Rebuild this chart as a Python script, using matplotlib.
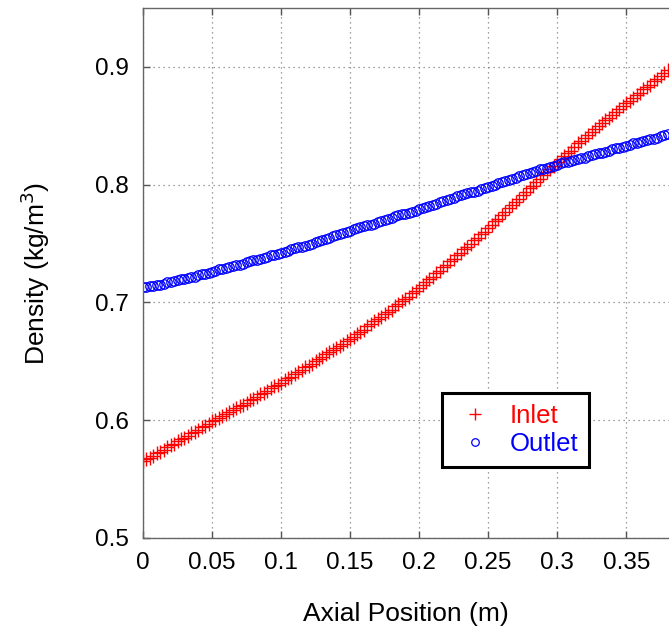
import matplotlib
matplotlib.use("Agg")
import matplotlib.pyplot as plt

plt.rcParams['font.family'] = ['Liberation Sans', 'DejaVu Sans']

axial_position = [
    0.0000, 0.0025, 0.0050, 0.0075, 0.0100, 0.0125, 0.0150, 0.0175, 0.0200, 0.0225,
    0.0250, 0.0275, 0.0300, 0.0325, 0.0350, 0.0375, 0.0400, 0.0425, 0.0450, 0.0475,
    0.0500, 0.0525, 0.0550, 0.0575, 0.0600, 0.0625, 0.0650, 0.0675, 0.0700, 0.0725,
    0.0750, 0.0775, 0.0800, 0.0825, 0.0850, 0.0875, 0.0900, 0.0925, 0.0950, 0.0975,
    0.1000, 0.1025, 0.1050, 0.1075, 0.1100, 0.1125, 0.1150, 0.1175, 0.1200, 0.1225,
    0.1250, 0.1275, 0.1300, 0.1325, 0.1350, 0.1375, 0.1400, 0.1425, 0.1450, 0.1475,
    0.1500, 0.1525, 0.1550, 0.1575, 0.1600, 0.1625, 0.1650, 0.1675, 0.1700, 0.1725,
    0.1750, 0.1775, 0.1800, 0.1825, 0.1850, 0.1875, 0.1900, 0.1925, 0.1950, 0.1975,
    0.2000, 0.2025, 0.2050, 0.2075, 0.2100, 0.2125, 0.2150, 0.2175, 0.2200, 0.2225,
    0.2250, 0.2275, 0.2300, 0.2325, 0.2350, 0.2375, 0.2400, 0.2425, 0.2450, 0.2475,
    0.2500, 0.2525, 0.2550, 0.2575, 0.2600, 0.2625, 0.2650, 0.2675, 0.2700, 0.2725,
    0.2750, 0.2775, 0.2800, 0.2825, 0.2850, 0.2875, 0.2900, 0.2925, 0.2950, 0.2975,
    0.3000, 0.3025, 0.3050, 0.3075, 0.3100, 0.3125, 0.3150, 0.3175, 0.3200, 0.3225,
    0.3250, 0.3275, 0.3300, 0.3325, 0.3350, 0.3375, 0.3400, 0.3425, 0.3450, 0.3475,
    0.3500, 0.3525, 0.3550, 0.3575, 0.3600, 0.3625, 0.3650, 0.3675, 0.3700, 0.3725,
    0.3750, 0.3775, 0.3800,
]

inlet_density = [
    0.565, 0.567, 0.568, 0.570, 0.572, 0.573, 0.575, 0.577, 0.579, 0.580,
    0.582, 0.584, 0.585, 0.587, 0.589, 0.590, 0.592, 0.594, 0.595, 0.597,
    0.599, 0.600, 0.602, 0.604, 0.605, 0.607, 0.609, 0.610, 0.612, 0.613,
    0.615, 0.617, 0.618, 0.620, 0.622, 0.623, 0.625, 0.627, 0.629, 0.630,
    0.632, 0.634, 0.636, 0.637, 0.639, 0.641, 0.643, 0.645, 0.646, 0.648,
    0.650, 0.652, 0.654, 0.656, 0.658, 0.660, 0.661, 0.663, 0.665, 0.667,
    0.669, 0.671, 0.673, 0.675, 0.677, 0.680, 0.682, 0.684, 0.686, 0.688,
    0.690, 0.692, 0.694, 0.697, 0.699, 0.701, 0.703, 0.705, 0.708, 0.710,
    0.712, 0.715, 0.717, 0.720, 0.722, 0.725, 0.727, 0.730, 0.732, 0.735,
    0.737, 0.740, 0.742, 0.745, 0.747, 0.750, 0.753, 0.755, 0.758, 0.760,
    0.763, 0.766, 0.769, 0.771, 0.774, 0.777, 0.780, 0.783, 0.785, 0.788,
    0.791, 0.794, 0.797, 0.799, 0.802, 0.805, 0.808, 0.811, 0.813, 0.816,
    0.819, 0.822, 0.824, 0.827, 0.829, 0.832, 0.835, 0.837, 0.840, 0.842,
    0.845, 0.847, 0.850, 0.852, 0.855, 0.857, 0.859, 0.862, 0.864, 0.867,
    0.869, 0.871, 0.874, 0.876, 0.878, 0.881, 0.883, 0.885, 0.888, 0.890,
    0.892, 0.895, 0.897,
]

outlet_density = [
    0.713, 0.713, 0.714, 0.714, 0.715, 0.715, 0.716, 0.717, 0.717, 0.718,
    0.719, 0.720, 0.720, 0.721, 0.722, 0.722, 0.723, 0.724, 0.724, 0.725,
    0.726, 0.727, 0.728, 0.728, 0.729, 0.730, 0.731, 0.732, 0.732, 0.733,
    0.734, 0.735, 0.736, 0.736, 0.737, 0.738, 0.739, 0.740, 0.740, 0.741,
    0.742, 0.743, 0.744, 0.745, 0.746, 0.747, 0.747, 0.748, 0.749, 0.750,
    0.751, 0.752, 0.753, 0.754, 0.755, 0.756, 0.757, 0.758, 0.759, 0.760,
    0.761, 0.762, 0.763, 0.764, 0.765, 0.766, 0.766, 0.767, 0.768, 0.769,
    0.770, 0.771, 0.772, 0.773, 0.774, 0.775, 0.775, 0.776, 0.777, 0.778,
    0.779, 0.780, 0.781, 0.782, 0.783, 0.784, 0.785, 0.786, 0.787, 0.788,
    0.789, 0.790, 0.791, 0.792, 0.793, 0.794, 0.794, 0.795, 0.796, 0.797,
    0.798, 0.799, 0.800, 0.801, 0.802, 0.803, 0.804, 0.805, 0.806, 0.807,
    0.808, 0.809, 0.810, 0.811, 0.812, 0.813, 0.813, 0.814, 0.815, 0.816,
    0.817, 0.818, 0.819, 0.819, 0.820, 0.821, 0.822, 0.823, 0.823, 0.824,
    0.825, 0.826, 0.827, 0.827, 0.828, 0.829, 0.830, 0.831, 0.831, 0.832,
    0.833, 0.834, 0.835, 0.835, 0.836, 0.837, 0.838, 0.839, 0.839, 0.840,
    0.841, 0.842, 0.843,
]

x_ticks = [0, 0.05, 0.1, 0.15, 0.2, 0.25, 0.3, 0.35]
x_tick_labels = ['0', '0.05', '0.1', '0.15', '0.2', '0.25', '0.3', '0.35']
y_ticks = [0.5, 0.6, 0.7, 0.8, 0.9]
y_tick_labels = ['0.5', '0.6', '0.7', '0.8', '0.9']

W, H = 669, 631
fig = plt.figure(figsize=(W / 100, H / 100), dpi=100)
left, right, top, bottom = 143, 669, 8, 538
ax = fig.add_axes([left / W, (H - bottom) / H, (right - left) / W, (bottom - top) / H])

ax.plot(axial_position, inlet_density, linestyle='none', marker='+',
        markersize=10, markeredgewidth=1.0, color='#ff0000', label='Inlet')
ax.plot(axial_position, outlet_density, linestyle='none', marker='o',
        markersize=6.8, markeredgewidth=0.9, markerfacecolor='none',
        markeredgecolor='#0000ff', label='Outlet')

ax.set_xlim(0, 0.381)
ax.set_ylim(0.5, 0.95)
ax.set_xticks(x_ticks)
ax.set_xticklabels(x_tick_labels)
ax.set_yticks(y_ticks)
ax.set_yticklabels(y_tick_labels)

ax.grid(True, linestyle=(0, (1, 3)), color='#808080', linewidth=0.9)
ax.tick_params(axis='both', direction='in', length=5, width=1, color='#555555',
               labelsize=17.5, top=True, pad=10)
ax.spines['right'].set_visible(False)
for s in ['left', 'bottom', 'top']:
    ax.spines[s].set_color('#666666')
    ax.spines[s].set_linewidth(1)

ax.set_xlabel('Axial Position (m)', fontsize=19, labelpad=20)
ax.set_ylabel('Density (kg/m$^3$)', fontsize=19, labelpad=31)

leg = ax.legend(loc='upper left',
                bbox_to_anchor=((442 - left) / (right - left), (bottom - 393) / (bottom - top)),
                frameon=True, fancybox=False, fontsize=18.5, borderpad=0.42,
                handlelength=1.7, handletextpad=0.5, labelspacing=0.18,
                borderaxespad=0, markerscale=0.8)
leg.get_frame().set_edgecolor('black')
leg.get_frame().set_linewidth(2.2)
leg.get_frame().set_alpha(1)
for t, c in zip(leg.get_texts(), ['#ff0000', '#0000ff']):
    t.set_color(c)

fig.savefig('out.png', dpi=100)
